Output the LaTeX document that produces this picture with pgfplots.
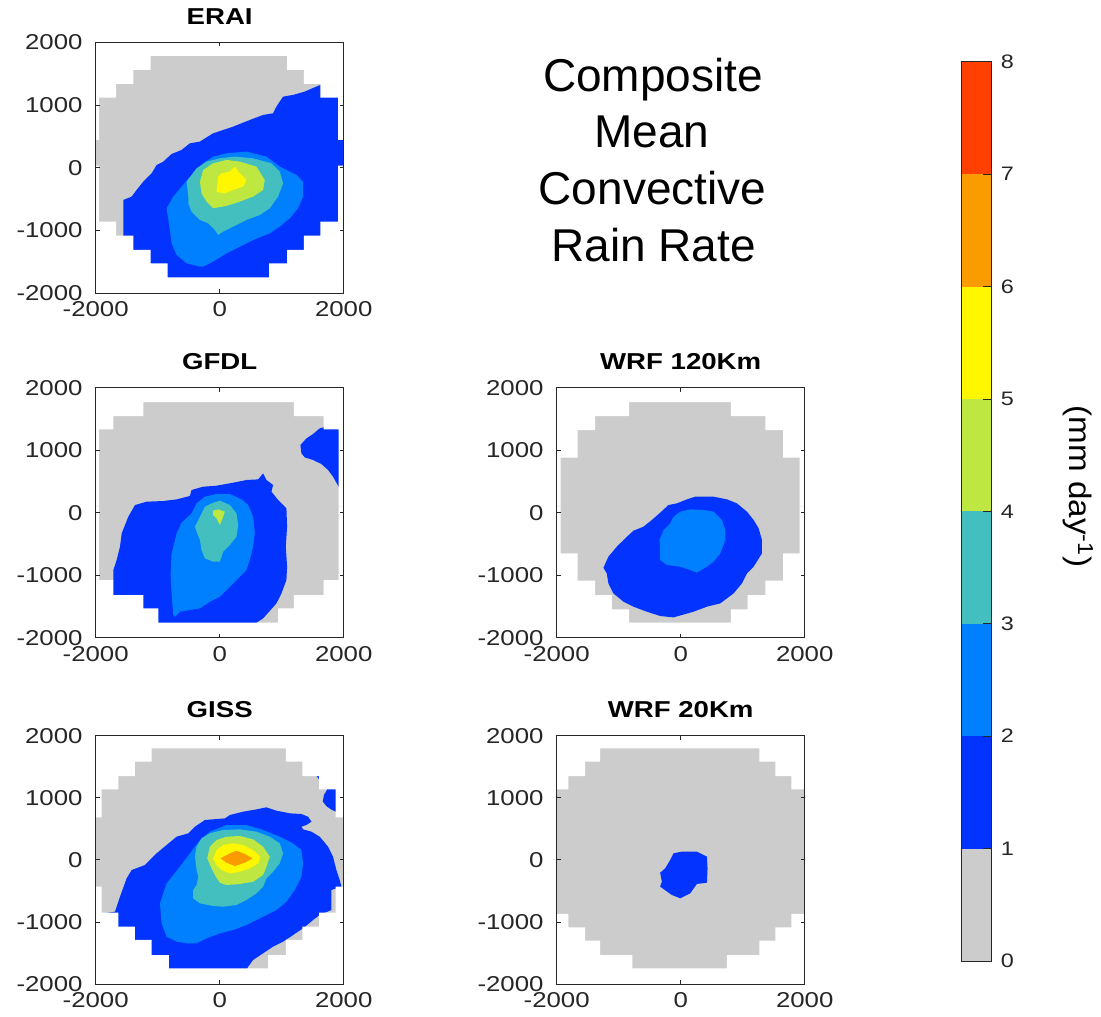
\documentclass[border=0pt]{standalone}
\usepackage{pgfplots}
\pgfplotsset{compat=1.18}
\usepackage{fontspec}
\setmainfont{Liberation Sans}
\newfontfamily\tickfont[FakeStretch=1.2]{Liberation Sans}
\newfontfamily\labfont[FakeStretch=1.07]{Liberation Sans}
\newfontfamily\bigfont{Liberation Sans}

% contour level colours (mm/day)
\definecolor{cgray}{RGB}{204,204,204}
\definecolor{cA}{RGB}{3,51,255}
\definecolor{cB}{RGB}{0,128,255}
\definecolor{cC}{RGB}{66,191,190}
\definecolor{cD}{RGB}{190,232,65}
\definecolor{cE}{RGB}{255,247,0}
\definecolor{cF}{RGB}{250,155,0}
\definecolor{cG}{RGB}{255,64,0}
\definecolor{axcol}{RGB}{38,38,38}

\pgfplotsset{
  panel/.style={
    anchor=north west, scale only axis, width=248pt, height=250pt,
    xmin=-2000, xmax=2000, ymin=-2000, ymax=2000,
    axis on top,
    xtick={-2000,0,2000}, xticklabels={-2000,0,2000},
    ytick={-2000,-1000,0,1000,2000}, yticklabels={-2000,-1000,0,1000,2000},
    tick align=inside, major tick length=4pt,
    axis line style={line width=0.8pt, draw=axcol},
    tick style={line width=0.8pt, draw=axcol},
    tick label style={font=\tickfont\fontsize{21.5}{24}\selectfont, text=axcol, inner sep=0pt},
    xticklabel style={yshift=-8.5pt},
    yticklabel style={xshift=-13pt},
    title style={font=\tickfont\bfseries\fontsize{23}{26}\selectfont, anchor=base, yshift=12pt},
  },
  lev/.style={fill=#1, draw=none},
}

\begin{document}
\begin{tikzpicture}
\path[use as bounding box] (0pt,0pt) rectangle (1101pt,1017pt);

% ---------------- ERAI ----------------
\begin{axis}[panel, at={(95.7pt,974.7pt)}, height=251pt, title={ERAI}]
\addplot[lev=cgray] coordinates {(-2000,-2000) (2000,-2000) (2000,2000) (-2000,2000)} -- cycle;
\addplot[lev=cA] coordinates {(-1554,-2200) (-1554,-512) (-1420,-459) (-1340,-353) (-1232,-220) (-1098,-88) (-1017,45) (-910,98) (-776,220) (-615,284) (-481,390) (-320,417) (-105,550) (217,656) (486,762) (700,842) (861,869) (915,975) (1022,1134) (1183,1161) (1371,1214) (1532,1283) (1624,1320) (2200,1320) (2200,-2200)} -- cycle;
\addplot[lev=cB] coordinates {(-319,-1575) (-534,-1522) (-695,-1389) (-776,-1203) (-803,-991) (-856,-645) (-749,-459) (-615,-300) (-427,-88) (-266,72) (-105,178) (110,231) (432,258) (754,178) (969,19) (1237,-114) (1345,-220) (1345,-459) (1264,-645) (1130,-805) (969,-938) (808,-1044) (539,-1150) (325,-1256) (110,-1363) (-105,-1495) (-266,-1575)} -- cycle;
\addplot[lev=cC] coordinates {(-507,-459) (-534,-220) (-373,-8) (-212,98) (3,151) (244,178) (540,151) (835,72) (969,-61) (1023,-247) (942,-459) (808,-645) (647,-752) (432,-831) (217,-938) (56,-1017) (-24,-1070) (-78,-991) (-185,-885) (-319,-831) (-454,-698) (-507,-565)} -- cycle;
\addplot[lev=cD] coordinates {(-319,-220) (-266,-35) (-105,72) (110,125) (325,98) (593,19) (727,-194) (700,-353) (539,-459) (325,-539) (110,-608) (-105,-645) (-212,-539) (-293,-406)} -- cycle;
\addplot[lev=cE] coordinates {(-51,-380) (-24,-141) (30,-88) (164,-61) (244,19) (325,-88) (432,-194) (378,-300) (217,-353) (83,-406)} -- cycle;
% outside the sampled domain
\addplot[lev=white] coordinates {(-2100,240) (-2000,240) (-2000,444) (-1946,444) (-1946,1118) (-1672,1118) (-1672,1336) (-1393,1336) (-1393,1559) (-1114,1559) (-1114,1782) (1087,1782) (1087,1559) (1356,1559) (1356,1336) (1624,1336) (1624,1118) (1909,1118) (1909,444) (2000,444) (2000,240) (2100,240) (2100,2100) (-2100,2100)} -- cycle;
\addplot[lev=white] coordinates {(-2100,240) (-2000,240) (-2000,35) (-1946,35) (-1946,-858) (-1672,-858) (-1672,-1081) (-1393,-1081) (-1393,-1310) (-1114,-1310) (-1114,-1522) (-840,-1522) (-840,-1745) (797,-1745) (797,-1522) (1087,-1522) (1087,-1310) (1356,-1310) (1356,-1081) (1624,-1081) (1624,-858) (1909,-858) (1909,35) (2000,35) (2000,240) (2100,240) (2100,-2100) (-2100,-2100)} -- cycle;
\end{axis}

% ---------------- GFDL ----------------
\begin{axis}[panel, at={(95.7pt,629.3pt)}, height=250pt, title={GFDL}]
\addplot[lev=cgray] coordinates {(-2000,-2000) (2000,-2000) (2000,2000) (-2000,2000)} -- cycle;
\addplot[lev=cA] coordinates {(-2200,-2600) (-2200,-1088) (-1715,-1088) (-1715,-917) (-1662,-757) (-1608,-544) (-1581,-331) (-1474,-64) (-1366,123) (-1179,176) (-910,187) (-695,213) (-481,267) (-454,363) (-266,416) (-51,432) (217,480) (432,523) (620,533) (700,629) (754,523) (861,443) (835,336) (942,203) (1076,69) (1087,-224) (1066,-544) (1087,-864) (1076,-1077) (996,-1291) (915,-1451) (797,-1584) (700,-1691) (593,-1760) (539,-2600)} -- cycle;
\addplot[lev=cA] coordinates {(1302,1083) (1399,1189) (1506,1259) (1613,1349) (1678,1365) (2200,1365) (2200,416) (1919,416) (1828,576) (1748,683) (1640,779) (1506,843) (1372,885) (1318,949)} -- cycle;
\addplot[lev=cB] coordinates {(-749,-1637) (-776,-1291) (-792,-971) (-776,-651) (-695,-331) (-615,-160) (-454,-11) (-373,149) (-239,256) (-51,299) (164,299) (352,213) (459,123) (539,-64) (566,-331) (539,-544) (486,-757) (432,-917) (325,-1024) (217,-1131) (110,-1237) (3,-1344) (-158,-1424) (-319,-1531) (-481,-1557) (-642,-1584) (-722,-1664)} -- cycle;
\addplot[lev=cC] coordinates {(-400,-224) (-319,-64) (-239,96) (-105,160) (3,192) (164,123) (271,-11) (298,-197) (271,-384) (164,-517) (56,-624) (3,-784) (-105,-784) (-239,-731) (-293,-597) (-319,-437) (-373,-304)} -- cycle;
\addplot[lev=cD] coordinates {(-105,32) (-24,53) (83,16) (46,-91) (3,-197) (-51,-91) (-105,-37)} -- cycle;
\addplot[lev=white] coordinates {(-2100,100) (-1946,100) (-1946,1333) (-1715,1333) (-1715,1547) (-1232,1547) (-1232,1771) (1195,1771) (1195,1547) (1678,1547) (1678,1333) (1919,1333) (1919,100) (2100,100) (2100,2100) (-2100,2100)} -- cycle;
\addplot[lev=white] coordinates {(-2100,100) (-1946,100) (-1946,-1077) (-1715,-1077) (-1715,-1317) (-1232,-1317) (-1232,-1531) (-991,-1531) (-991,-1760) (942,-1760) (942,-1531) (1195,-1531) (1195,-1317) (1678,-1317) (1678,-1077) (1919,-1077) (1919,100) (2100,100) (2100,-2100) (-2100,-2100)} -- cycle;
\end{axis}

% ---------------- GISS ----------------
\begin{axis}[panel, at={(95.7pt,281.3pt)}, height=248.3pt, title={GISS}]
\addplot[lev=cgray] coordinates {(-2000,-2000) (2000,-2000) (2000,2000) (-2000,2000)} -- cycle;
\addplot[lev=cA] coordinates {(-1930,-2600) (-1930,-872) (-1689,-835) (-1608,-593) (-1501,-298) (-1420,-164) (-1205,-83) (-1017,105) (-856,239) (-695,373) (-507,427) (-400,534) (-239,642) (83,668) (164,722) (378,776) (593,813) (754,846) (915,792) (1130,749) (1318,738) (1425,695) (1479,615) (1399,561) (1318,534) (1345,491) (1479,454) (1613,373) (1748,212) (1828,51) (1882,-164) (1936,-325) (1963,-432) (1801,-486) (1801,-808) (1613,-889) (1506,-969) (1345,-1103) (1184,-1211) (1023,-1318) (861,-1399) (700,-1506) (539,-1613) (459,-1721) (432,-1775) (432,-2600)} -- cycle;
\addplot[lev=cA] coordinates {(1720,1110) (1740,1150) (2100,1150) (2100,763) (1897,763) (1807,807) (1726,860) (1662,940) (1683,1048)} -- cycle;
\addplot[lev=cA] coordinates {(1560,1360) (1620,1360) (1620,1290) (1590,1310)} -- cycle;
\addplot[lev=cB] coordinates {(-937,-1023) (-964,-701) (-856,-379) (-642,-110) (-481,105) (-319,319) (-158,454) (110,561) (432,561) (700,481) (969,373) (1184,266) (1318,158) (1345,-56) (1318,-271) (1211,-486) (1076,-674) (915,-808) (754,-889) (593,-969) (432,-1050) (217,-1130) (3,-1184) (-212,-1264) (-373,-1345) (-534,-1345) (-695,-1318) (-856,-1238)} -- cycle;
\addplot[lev=cC] coordinates {(-400,51) (-373,212) (-293,346) (-158,427) (56,481) (325,491) (593,454) (808,373) (969,266) (1023,105) (969,-56) (861,-191) (754,-298) (700,-432) (593,-540) (432,-647) (271,-727) (56,-754) (-105,-744) (-319,-701) (-427,-620) (-427,-486) (-373,-405) (-346,-271) (-373,-164)} -- cycle;
\addplot[lev=cD] coordinates {(-201,24) (-158,212) (-51,319) (110,373) (325,384) (539,330) (700,212) (808,51) (754,-110) (700,-244) (539,-352) (325,-389) (110,-405) (3,-368) (-62,-271) (-132,-137)} -- cycle;
\addplot[lev=cE] coordinates {(-105,24) (-51,158) (56,239) (217,266) (378,239) (539,158) (657,51) (620,-56) (486,-137) (325,-191) (164,-217) (30,-164) (-51,-83)} -- cycle;
\addplot[lev=cF] coordinates {(13,24) (164,105) (271,148) (405,94) (529,24) (405,-46) (244,-99) (110,-46)} -- cycle;
\addplot[lev=white] coordinates {(-2100,100) (-2000,100) (-2000,685) (-1903,685) (-1903,1136) (-1635,1136) (-1635,1350) (-1367,1350) (-1367,1581) (-1098,1581) (-1098,1796) (1066,1796) (1066,1581) (1334,1581) (1334,1350) (1603,1350) (1603,1136) (1871,1136) (1871,685) (2000,685) (2000,100) (2100,100) (2100,2100) (-2100,2100)} -- cycle;
\addplot[lev=white] coordinates {(-2100,100) (-2000,100) (-2000,-432) (-1903,-432) (-1903,-850) (-1635,-850) (-1635,-1076) (-1367,-1076) (-1367,-1291) (-1098,-1291) (-1098,-1533) (-819,-1533) (-819,-1748) (782,-1748) (782,-1533) (1066,-1533) (1066,-1291) (1334,-1291) (1334,-1076) (1603,-1076) (1603,-850) (1871,-850) (1871,-432) (2000,-432) (2000,100) (2100,100) (2100,-2100) (-2100,-2100)} -- cycle;
\end{axis}

% ---------------- WRF 120Km ----------------
\begin{axis}[panel, at={(556.7pt,629.3pt)}, height=250pt, title={WRF 120Km}]
\addplot[lev=cgray] coordinates {(-2000,-2000) (2000,-2000) (2000,2000) (-2000,2000)} -- cycle;
\addplot[lev=cA] coordinates {(-1246,-880) (-1166,-704) (-1031,-544) (-896,-411) (-762,-288) (-600,-224) (-466,-117) (-331,0) (-197,123) (-62,149) (100,213) (234,256) (530,256) (746,213) (907,149) (1069,16) (1176,-117) (1257,-251) (1311,-437) (1311,-651) (1176,-864) (1069,-971) (988,-1131) (853,-1291) (638,-1451) (423,-1504) (207,-1584) (-116,-1675) (-331,-1653) (-546,-1584) (-762,-1504) (-923,-1424) (-1085,-1291) (-1166,-1131) (-1193,-971)} -- cycle;
\addplot[lev=cB] coordinates {(-342,-437) (-277,-277) (-170,-171) (-116,-64) (-8,16) (153,53) (369,43) (530,16) (665,-117) (719,-277) (719,-437) (638,-651) (530,-784) (423,-864) (261,-960) (153,-917) (-8,-864) (-223,-837) (-331,-757) (-331,-597)} -- cycle;
\addplot[lev=white] coordinates {(-2100,100) (-1936,100) (-1936,880) (-1661,880) (-1661,1323) (-1381,1323) (-1381,1547) (-832,1547) (-832,1771) (810,1771) (810,1547) (1365,1547) (1365,1323) (1650,1323) (1650,880) (1919,880) (1919,100) (2100,100) (2100,2100) (-2100,2100)} -- cycle;
\addplot[lev=white] coordinates {(-2100,100) (-1936,100) (-1936,-651) (-1661,-651) (-1661,-1088) (-1381,-1088) (-1381,-1317) (-1112,-1317) (-1112,-1547) (-832,-1547) (-832,-1760) (810,-1760) (810,-1547) (1080,-1547) (1080,-1317) (1365,-1317) (1365,-1088) (1650,-1088) (1650,-651) (1919,-651) (1919,100) (2100,100) (2100,-2100) (-2100,-2100)} -- cycle;
\end{axis}

% ---------------- WRF 20Km ----------------
\begin{axis}[panel, at={(556.7pt,281.3pt)}, height=248.3pt, title={WRF 20Km}]
\addplot[lev=cgray] coordinates {(-2000,-2000) (2000,-2000) (2000,2000) (-2000,2000)} -- cycle;
\addplot[lev=cA] coordinates {(-331,-207) (-250,-137) (-170,-3) (-116,105) (19,132) (261,132) (423,51) (433,-137) (423,-368) (261,-389) (153,-540) (-8,-620) (-143,-566) (-331,-432) (-304,-352)} -- cycle;
\addplot[lev=white] coordinates {(-2100,100) (-2000,100) (-2000,1136) (-1812,1136) (-1812,1350) (-1543,1350) (-1543,1581) (-1300,1581) (-1300,1796) (1268,1796) (1268,1581) (1526,1581) (1526,1350) (1785,1350) (1785,1136) (2000,1136) (2000,100) (2100,100) (2100,2100) (-2100,2100)} -- cycle;
\addplot[lev=white] coordinates {(-2100,100) (-2000,100) (-2000,-872) (-1812,-872) (-1812,-1087) (-1543,-1087) (-1543,-1302) (-1300,-1302) (-1300,-1533) (-778,-1533) (-778,-1748) (746,-1748) (746,-1533) (1268,-1533) (1268,-1302) (1526,-1302) (1526,-1087) (1785,-1087) (1785,-872) (2000,-872) (2000,100) (2100,100) (2100,-2100) (-2100,-2100)} -- cycle;
\end{axis}

% ---------------- colour bar ----------------
\begin{axis}[anchor=north west, at={(961pt,955.3pt)}, scale only axis, width=30.7pt, height=899.3pt,
  xmin=0, xmax=1, ymin=0, ymax=8, xtick=\empty, ytick={0,1,2,3,4,5,6,7,8},
  yticklabels={0,1,2,3,4,5,6,7,8},
  ytick pos=right, yticklabel pos=right, tick align=inside, major tick length=9pt,
  axis on top,
  axis line style={line width=0.8pt, draw=axcol},
  tick style={line width=0.8pt, draw=axcol},
  yticklabel style={font=\tickfont\fontsize{19.5}{22}\selectfont, text=axcol, anchor=west, inner sep=0pt, xshift=9pt}]
\addplot[lev=cgray] coordinates {(0,0) (1,0) (1,1) (0,1)} -- cycle;
\addplot[lev=cA] coordinates {(0,1) (1,1) (1,2) (0,2)} -- cycle;
\addplot[lev=cB] coordinates {(0,2) (1,2) (1,3) (0,3)} -- cycle;
\addplot[lev=cC] coordinates {(0,3) (1,3) (1,4) (0,4)} -- cycle;
\addplot[lev=cD] coordinates {(0,4) (1,4) (1,5) (0,5)} -- cycle;
\addplot[lev=cE] coordinates {(0,5) (1,5) (1,6) (0,6)} -- cycle;
\addplot[lev=cF] coordinates {(0,6) (1,6) (1,7) (0,7)} -- cycle;
\addplot[lev=cG] coordinates {(0,7) (1,7) (1,8) (0,8)} -- cycle;
\end{axis}

\node[rotate=-90, anchor=base, font=\labfont\fontsize{31}{34}\selectfont, text=black]
  at (1069pt,530.5pt) {(mm day\textsuperscript{-1})};

% heading
\begin{scope}[every node/.style={anchor=base, font=\bigfont\fontsize{46}{56}\selectfont}]
\node at (653pt,925.3pt) {Composite};
\node at (652pt,869.7pt) {Mean};
\node at (652.5pt,812pt) {Convective};
\node at (653.5pt,755.3pt) {Rain Rate};
\end{scope}
\end{tikzpicture}
\end{document}
